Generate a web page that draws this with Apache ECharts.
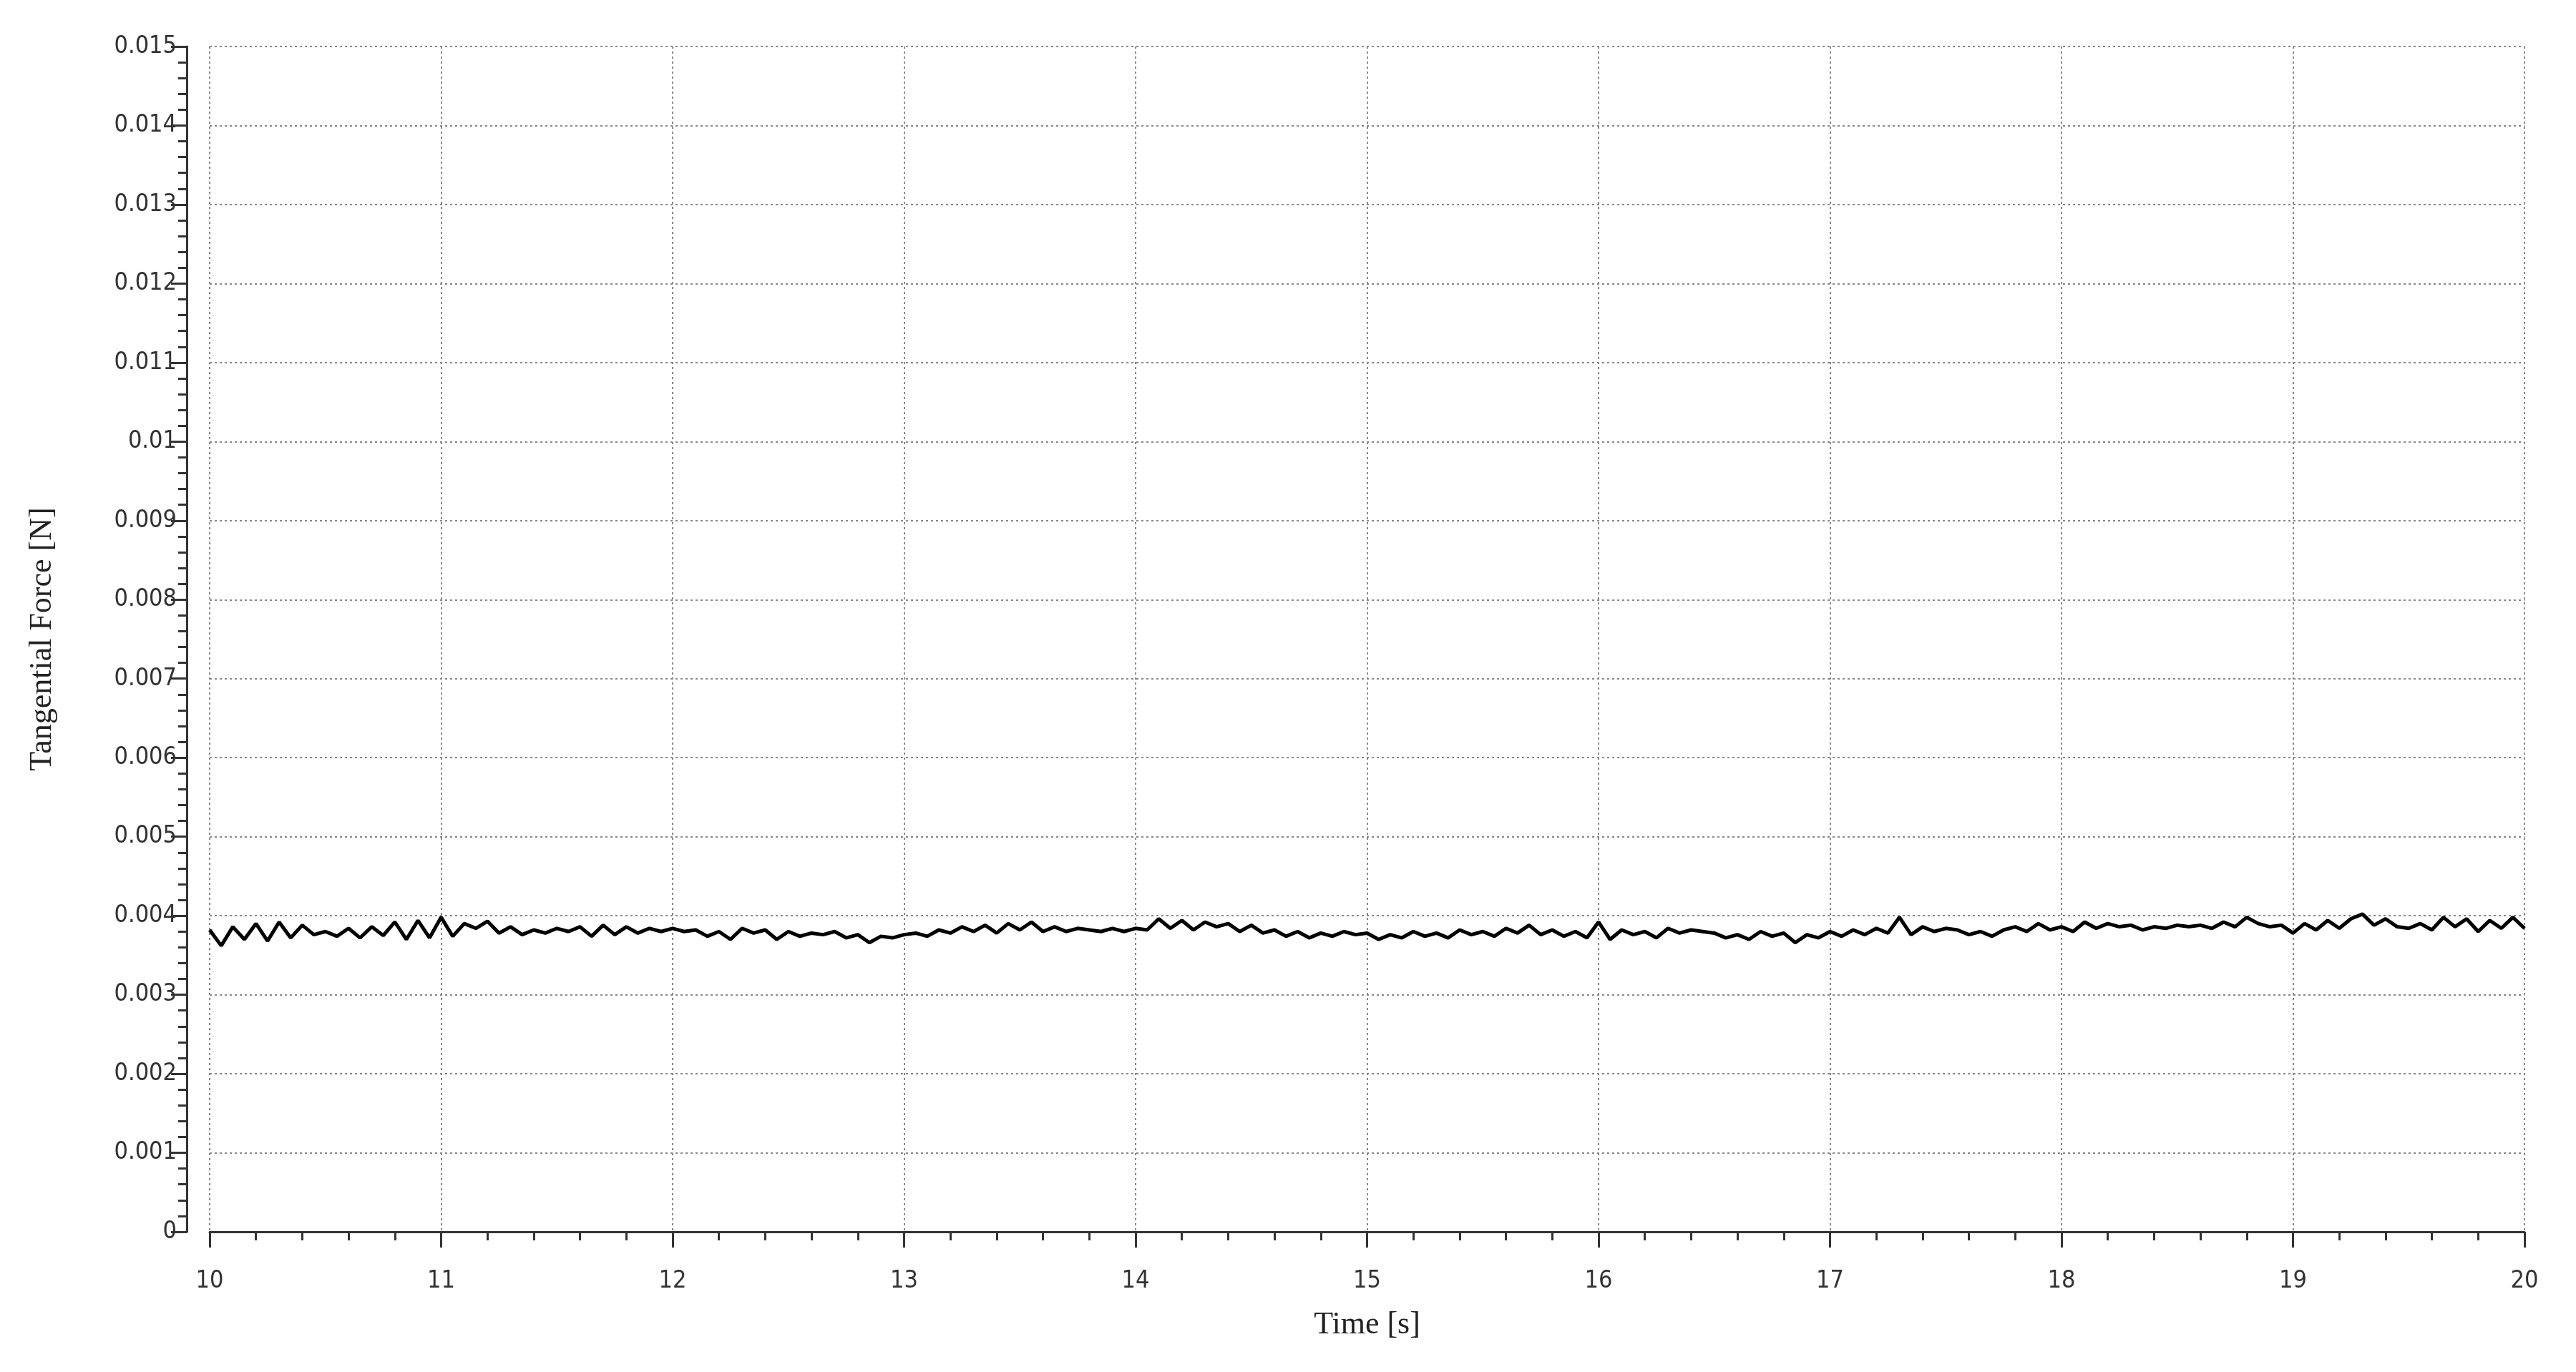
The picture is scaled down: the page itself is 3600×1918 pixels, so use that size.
<!DOCTYPE html>
<html><head><meta charset="utf-8">
<script src="https://cdn.jsdelivr.net/npm/echarts@6/dist/echarts.min.js"></script>
<style>html,body{margin:0;padding:0;background:#fff}#c{width:3600px;height:1918px}</style>
</head><body><div id="c"></div>
<script>
const startTime = 10;
const sampleStep = 0.05;
// Tangential force in mN
const forceMilliN = [
3.82,3.62,3.86,3.70,3.90,3.68,3.92,3.72,3.88,3.76,3.80,3.74,3.84,3.72,3.86,3.75,3.92,3.70,3.94,3.72,
3.98,3.74,3.90,3.84,3.93,3.78,3.86,3.76,3.82,3.78,3.84,3.80,3.86,3.74,3.88,3.76,3.86,3.78,3.84,3.80,
3.84,3.80,3.82,3.74,3.80,3.70,3.84,3.78,3.82,3.70,3.80,3.74,3.78,3.76,3.80,3.72,3.76,3.66,3.74,3.72,
3.76,3.78,3.74,3.82,3.78,3.86,3.80,3.88,3.78,3.90,3.82,3.92,3.80,3.86,3.80,3.84,3.82,3.80,3.84,3.80,
3.84,3.82,3.96,3.84,3.94,3.82,3.92,3.86,3.90,3.80,3.88,3.78,3.82,3.74,3.80,3.72,3.78,3.74,3.80,3.76,
3.78,3.70,3.76,3.72,3.80,3.74,3.78,3.72,3.82,3.76,3.80,3.74,3.84,3.78,3.88,3.76,3.82,3.74,3.80,3.72,
3.92,3.70,3.82,3.76,3.80,3.72,3.84,3.78,3.82,3.80,3.78,3.72,3.76,3.70,3.80,3.74,3.78,3.66,3.76,3.72,
3.80,3.74,3.82,3.76,3.84,3.78,3.98,3.76,3.86,3.80,3.84,3.82,3.76,3.80,3.74,3.82,3.86,3.80,3.90,3.82,
3.86,3.80,3.92,3.84,3.90,3.86,3.88,3.82,3.86,3.84,3.88,3.86,3.88,3.84,3.92,3.86,3.98,3.90,3.86,3.88,
3.78,3.90,3.82,3.94,3.84,3.96,4.02,3.88,3.96,3.86,3.84,3.90,3.82,3.98,3.86,3.96,3.80,3.94,3.84,3.98,
3.84
];
const xTitle = 'Time [s]';
const yTitle = 'Tangential Force [N]';

const data = forceMilliN.map((v, i) => [+(startTime + i * sampleStep).toFixed(3), v / 1000]);
const gridLine = {show: true, lineStyle: {color: '#888', type: [3, 4], width: 2}};
const chart = echarts.init(document.getElementById('c'));
chart.setOption({
  animation: false,
  backgroundColor: '#fff',
  grid: {left: 293, right: 72, top: 65, bottom: 196, containLabel: false},
  xAxis: {
    type: 'value', min: 10, max: 20, interval: 1, offset: 24,
    name: xTitle, nameLocation: 'middle', nameGap: 84,
    nameTextStyle: {fontFamily: 'Liberation Serif', fontSize: 44, color: '#222'},
    axisLine: {lineStyle: {color: '#333', width: 3}},
    axisTick: {length: 22, lineStyle: {color: '#333', width: 3}},
    minorTick: {show: true, splitNumber: 5, length: 12, lineStyle: {color: '#333', width: 3}},
    axisLabel: {fontFamily: 'DejaVu Sans Condensed', fontSize: 34, color: '#333', margin: 28},
    splitLine: gridLine
  },
  yAxis: {
    type: 'value', min: 0, max: 0.015, interval: 0.001, offset: 32,
    name: yTitle, nameLocation: 'middle', nameGap: 180, nameRotate: 90,
    nameTextStyle: {fontFamily: 'Liberation Serif', fontSize: 44, color: '#222'},
    axisLine: {show: true, lineStyle: {color: '#333', width: 3}},
    axisTick: {show: true, length: 22, lineStyle: {color: '#333', width: 3}},
    minorTick: {show: true, splitNumber: 5, length: 12, lineStyle: {color: '#333', width: 3}},
    axisLabel: {fontFamily: 'DejaVu Sans Condensed', fontSize: 34, color: '#333', margin: 14,
      formatter: v => String(+v.toFixed(3))},
    splitLine: gridLine
  },
  series: [{
    type: 'line', data: data, showSymbol: false, symbol: 'none',
    lineStyle: {color: '#000', width: 5}
  }]
});
</script></body></html>
